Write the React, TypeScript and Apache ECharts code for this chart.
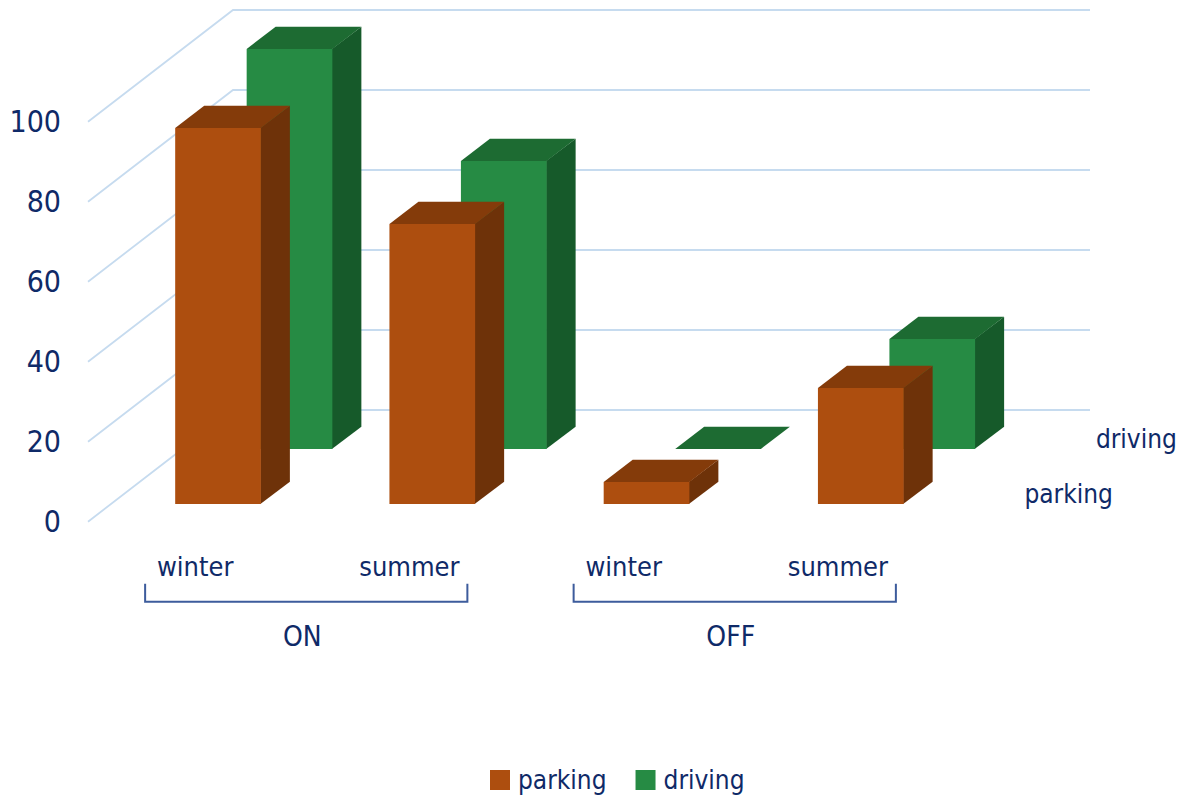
import React, { useEffect, useRef } from "react";
import * as echarts from "echarts";

// ---- data ----
const categories = ["winter", "summer", "winter", "summer"];
const groups = ["ON", "OFF"];
const seriesNames = ["parking", "driving"];
const parking = [94, 70, 5.5, 29];
const driving = [100, 72, 0, 27.5];
const yTicks = [0, 20, 40, 60, 80, 100];

// ---- style / layout ----
const NAVY = "#0f2a68";
const FONT = "'DejaVu Sans Condensed', 'Liberation Sans Narrow', sans-serif";
const GRID_COLOR = "#c6dbef";
const DEPTH: [number, number] = [145, -111.7]; // full depth of the box in px
const BAR_RATIO = 0.4;
const BAR_DEPTH = 0.2;
const ROW_Z = { parking: 0.158, driving: 0.651 };

const COLORS = {
  parking: { front: "#ad4e0f", side: "#6e3209", top: "#843b0a" },
  driving: { front: "#268b44", side: "#165a2a", top: "#1d6b32" },
};

function barRender(z0: number, c: { front: string; side: string; top: string }) {
  return (params: any, api: any) => {
    const idx = api.value(0);
    const v = api.value(1);
    const base = api.coord([idx, 0]);
    const top = api.coord([idx, v]);
    const band = api.size([1, 0])[0];
    const w = band * BAR_RATIO;
    const ox = DEPTH[0] * z0;
    const oy = DEPTH[1] * z0;
    const dx = DEPTH[0] * BAR_DEPTH;
    const dy = DEPTH[1] * BAR_DEPTH;
    const xl = base[0] - w / 2 + ox;
    const xr = xl + w;
    const yb = base[1] + oy;
    const yt = top[1] + oy;
    const children: any[] = [];
    if (yb - yt > 0.1) {
      children.push({
        type: "polygon",
        shape: { points: [[xr - 0.5, yb], [xr - 0.5, yt], [xr + dx, yt + dy], [xr + dx, yb + dy]] },
        style: { fill: c.side },
      });
      children.push({
        type: "rect",
        shape: { x: xl, y: yt, width: w, height: yb - yt },
        style: { fill: c.front },
      });
    }
    children.push({
      type: "polygon",
      shape: { points: [[xl, yt], [xr, yt], [xr + dx, yt + dy], [xl + dx, yt + dy]] },
      style: { fill: c.top },
    });
    return { type: "group", children };
  };
}

export default function App() {
  const ref = useRef<HTMLDivElement>(null);
  useEffect(() => {
    if (!ref.current) return;
    const chart = echarts.init(ref.current, null, { renderer: "svg" });
    const option: any = {
      animation: false,
      backgroundColor: "#ffffff",
      grid: { left: 88, right: 238, top: 121.7, bottom: 280.3, containLabel: false },
      xAxis: {
        type: "category",
        data: categories,
        axisLine: { show: false },
        axisTick: { show: false },
        axisLabel: { color: NAVY, fontSize: 27, fontFamily: FONT, margin: 31 },
        splitLine: { show: false },
      },
      yAxis: {
        type: "value",
        min: 0,
        max: 100,
        interval: 20,
        axisLine: { show: false },
        axisTick: { show: false },
        splitLine: { show: false },
        axisLabel: { color: NAVY, fontSize: 30, fontFamily: FONT, margin: 27 },
      },
      legend: {
        data: seriesNames,
        left: 485,
        top: 762,
        icon: "rect",
        itemWidth: 20,
        itemHeight: 20,
        itemGap: 29,
        textStyle: { color: NAVY, fontSize: 26, fontFamily: FONT, padding: [0, 0, 0, 3] },
        selectedMode: false,
      },
      series: [
        {
          type: "custom",
          name: "walls",
          silent: true,
          z: 1,
          data: yTicks.map((v) => [0, v]),
          renderItem: (params: any, api: any) => {
            const v = api.value(1);
            const y = api.coord([0, v])[1];
            const x0 = params.coordSys.x;
            const x1 = x0 + params.coordSys.width;
            return {
              type: "polyline",
              shape: {
                points: [
                  [x0, y],
                  [x0 + DEPTH[0], y + DEPTH[1]],
                  [x1 + DEPTH[0], y + DEPTH[1]],
                ],
              },
              style: { stroke: GRID_COLOR, lineWidth: 1.8, fill: "none" },
            };
          },
        },
        {
          type: "custom",
          name: "driving",
          z: 2,
          itemStyle: { color: COLORS.driving.front },
          data: driving.map((v, i) => [i, v]),
          renderItem: barRender(ROW_Z.driving, COLORS.driving),
        },
        {
          type: "custom",
          name: "parking",
          z: 3,
          itemStyle: { color: COLORS.parking.front },
          data: parking.map((v, i) => [i, v]),
          renderItem: barRender(ROW_Z.parking, COLORS.parking),
        },
        {
          type: "custom",
          name: "depthLabels",
          silent: true,
          z: 4,
          data: [[0, 0], [1, 0]],
          renderItem: (params: any, api: any) => {
            const i = params.dataIndex;
            const name = seriesNames[i];
            const zc = (name === "parking" ? ROW_Z.parking : ROW_Z.driving) + BAR_DEPTH / 2;
            const x = params.coordSys.x + params.coordSys.width + DEPTH[0] * zc + 42;
            const y = api.coord([0, 0])[1] + DEPTH[1] * zc + 1;
            return {
              type: "text",
              style: {
                text: name,
                x,
                y,
                fill: NAVY,
                fontSize: 26,
                fontFamily: FONT,
                align: "left",
                verticalAlign: "middle",
              },
            };
          },
        },
        {
          type: "custom",
          name: "groups",
          silent: true,
          z: 4,
          data: [[0, 1], [2, 3]],
          renderItem: (params: any, api: any) => {
            const a = api.coord([api.value(0), 0]);
            const b = api.coord([api.value(1), 0]);
            const xl = a[0] - 50;
            const xr = b[0] + 58;
            const yTop = a[1] + 62;
            const yBot = a[1] + 80;
            return {
              type: "group",
              children: [
                {
                  type: "polyline",
                  shape: { points: [[xl, yTop], [xl, yBot], [xr, yBot], [xr, yTop]] },
                  style: { stroke: "#3d5c9c", lineWidth: 2, fill: "none" },
                },
                {
                  type: "text",
                  style: {
                    text: groups[params.dataIndex],
                    x: (a[0] + b[0]) / 2,
                    y: a[1] + 115,
                    fill: NAVY,
                    fontSize: 28,
                    fontFamily: FONT,
                    align: "center",
                    verticalAlign: "middle",
                  },
                },
              ],
            };
          },
        },
      ],
    };
    chart.setOption(option);
    return () => chart.dispose();
  }, []);
  return (
    <div
      ref={ref}
      style={{ position: "fixed", left: 0, top: 0, width: 1183, height: 802, background: "#fff" }}
    />
  );
}
